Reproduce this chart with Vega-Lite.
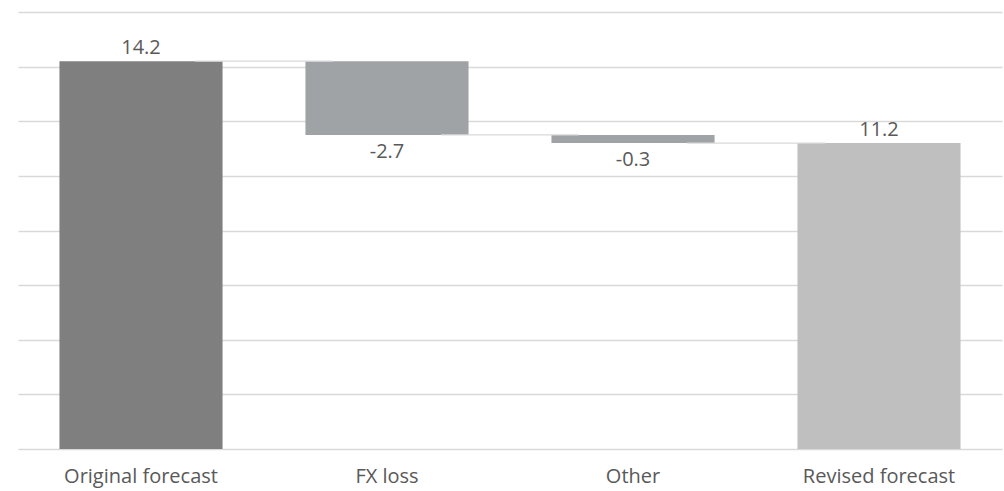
{
  "$schema": "https://vega.github.io/schema/vega-lite/v6.json",
  "width": 984,
  "height": 437,
  "padding": {"left": 18, "top": 12, "right": 2, "bottom": 42},
  "autosize": {"type": "none"},
  "background": "white",
  "config": {
    "view": {"stroke": null},
    "font": "Open Sans",
    "locale": {
      "number": {"decimal": ".", "thousands": ",", "grouping": [3], "currency": ["$", ""], "minus": "-"}
    }
  },
  "data": {
    "values": [
      {"step": "Original forecast", "kind": "total", "value": 14.2, "start": 0, "end": 14.2, "next": "FX loss"},
      {"step": "FX loss", "kind": "delta", "value": -2.7, "start": 14.2, "end": 11.5, "next": "Other"},
      {"step": "Other", "kind": "delta", "value": -0.3, "start": 11.5, "end": 11.2, "next": "Revised forecast"},
      {"step": "Revised forecast", "kind": "total", "value": 11.2, "start": 0, "end": 11.2, "next": null}
    ]
  },
  "encoding": {
    "x": {
      "field": "step",
      "type": "nominal",
      "sort": null,
      "scale": {"paddingInner": 0.337, "paddingOuter": 0.1685},
      "axis": {
        "title": null,
        "domain": false,
        "ticks": false,
        "labelAngle": 0,
        "labelFontSize": 20,
        "labelColor": "#595959",
        "labelBaseline": "alphabetic",
        "labelPadding": 33
      }
    }
  },
  "layer": [
    {
      "mark": {"type": "bar"},
      "encoding": {
        "y": {
          "field": "start",
          "type": "quantitative",
          "scale": {"domain": [0, 16], "nice": false},
          "axis": {
            "title": null,
            "values": [0, 2, 4, 6, 8, 10, 12, 14, 16],
            "grid": true,
            "gridColor": "#d9d9d9",
            "gridWidth": 1.3,
            "labels": false,
            "ticks": false,
            "domain": false
          }
        },
        "y2": {"field": "end"},
        "color": {
          "field": "step",
          "type": "nominal",
          "scale": {
            "domain": ["Original forecast", "FX loss", "Other", "Revised forecast"],
            "range": ["#7f7f7f", "#a0a3a6", "#a0a3a6", "#bfbfbf"]
          },
          "legend": null
        }
      }
    },
    {
      "transform": [{"filter": "datum.next != null"}],
      "mark": {"type": "rule", "color": "#d9d9d9", "strokeWidth": 1.3},
      "encoding": {
        "x": {"field": "step", "type": "nominal", "sort": null, "bandPosition": 0.8315},
        "x2": {"field": "next", "bandPosition": 0.1685},
        "y": {"field": "end", "type": "quantitative"}
      }
    },
    {
      "transform": [{"filter": "datum.kind == 'total'"}],
      "mark": {"type": "text", "baseline": "alphabetic", "dy": -7, "fontSize": 20, "color": "#595959"},
      "encoding": {
        "y": {"field": "end", "type": "quantitative"},
        "text": {"field": "value", "type": "quantitative", "format": ".1f"}
      }
    },
    {
      "transform": [{"filter": "datum.kind == 'delta'"}],
      "mark": {"type": "text", "baseline": "alphabetic", "dy": 23, "fontSize": 20, "color": "#595959"},
      "encoding": {
        "y": {"field": "end", "type": "quantitative"},
        "text": {"field": "value", "type": "quantitative", "format": ".1f"}
      }
    }
  ]
}
